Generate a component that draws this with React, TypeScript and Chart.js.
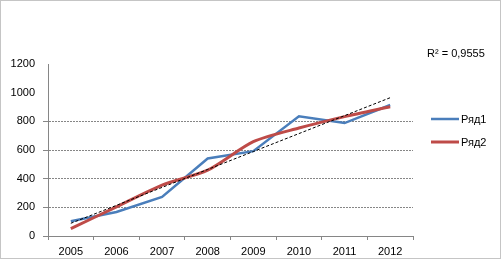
import React, { useEffect, useRef } from "react";
import { Chart, registerables } from "chart.js";

Chart.register(...registerables);

const years = ["2005", "2006", "2007", "2008", "2009", "2010", "2011", "2012"];
const series1 = [103, 168, 273, 541, 592, 835, 788, 914];
const series2 = [52, 203, 355, 459, 658, 753, 833, 902];
const seriesNames = ["Ряд1", "Ряд2"];
const yMin = 0;
const yMax = 1200;
const yStep = 200;
const gridMax = 800;
const r2Label = "R² = 0,9555";

function linearTrend(values: number[]): number[] {
  const n = values.length;
  const xs = values.map((_, i) => i + 1);
  const mx = xs.reduce((a, b) => a + b, 0) / n;
  const my = values.reduce((a, b) => a + b, 0) / n;
  let sxy = 0;
  let sxx = 0;
  for (let i = 0; i < n; i++) {
    sxy += (xs[i] - mx) * (values[i] - my);
    sxx += (xs[i] - mx) * (xs[i] - mx);
  }
  const slope = sxy / sxx;
  const intercept = my - slope * mx;
  return xs.map((x) => intercept + slope * x);
}

const trend1 = linearTrend(series1);

const BLUE = "#4a7ebb";
const RED = "#be4b48";
const GRID = "#868686";
const FONT = "'Liberation Sans', Arial, sans-serif";

export default function App() {
  const ref = useRef<HTMLCanvasElement | null>(null);

  useEffect(() => {
    document.body.style.margin = "0";
    const canvas = ref.current;
    if (!canvas) return;

    const overlay = {
      id: "overlay",
      afterDraw(chart: any) {
        const ctx = chart.ctx as CanvasRenderingContext2D;
        const area = chart.chartArea;
        ctx.save();
        // outer dotted border
        ctx.strokeStyle = "#8a8a8a";
        ctx.lineWidth = 1;
        ctx.setLineDash([1, 1]);
        ctx.strokeRect(0.5, 0.5, 500, 258);
        ctx.setLineDash([]);
        // legend
        ctx.font = `11px ${FONT}`;
        ctx.fillStyle = "#000";
        ctx.textBaseline = "middle";
        ctx.textAlign = "left";
        const lx = area.right + 18;
        const items = [
          { name: seriesNames[0], color: BLUE, width: 2.5, y: 119 },
          { name: seriesNames[1], color: RED, width: 3, y: 142 },
        ];
        for (const it of items) {
          ctx.strokeStyle = it.color;
          ctx.lineWidth = it.width;
          ctx.beginPath();
          ctx.moveTo(lx, it.y);
          ctx.lineTo(lx + 28, it.y);
          ctx.stroke();
          ctx.fillText(it.name, lx + 30, it.y + 1);
        }
        // R² label
        ctx.fillText(r2Label, area.right + 14, 54);
        ctx.restore();
      },
    };

    const chart = new Chart(canvas, {
      type: "line",
      data: {
        labels: years,
        datasets: [
          {
            label: "trend",
            data: trend1,
            borderColor: "#000",
            borderWidth: 1,
            borderDash: [3, 2],
            pointRadius: 0,
            tension: 0,
            fill: false,
          },
          {
            label: seriesNames[1],
            data: series2,
            borderColor: RED,
            borderWidth: 3,
            pointRadius: 0,
            tension: 0.25,
            fill: false,
          },
          {
            label: seriesNames[0],
            data: series1,
            borderColor: BLUE,
            borderWidth: 2.5,
            pointRadius: 0,
            tension: 0,
            fill: false,
          },
        ],
      },
      options: {
        responsive: false,
        animation: false,
        devicePixelRatio: 1,
        layout: { padding: { left: 0, top: 64, right: 90, bottom: 0 } },
        plugins: {
          legend: { display: false },
          tooltip: { enabled: false },
          title: { display: false },
        },
        scales: {
          x: {
            type: "category",
            offset: true,
            grid: {
              offset: true,
              drawOnChartArea: false,
              drawTicks: true,
              tickLength: 4,
              color: GRID,
            },
            border: { color: GRID, width: 1 },
            ticks: {
              color: "#000",
              font: { family: FONT, size: 11 },
              padding: 5,
              maxRotation: 0,
              autoSkip: false,
            },
            afterFit: (s: any) => {
              s.height = 25;
            },
          },
          y: {
            min: yMin,
            max: yMax,
            grid: {
              tickLength: 5,
              color: (c: any) =>
                c.tick && c.tick.value <= gridMax ? GRID : "rgba(0,0,0,0)",
            },
            border: { color: GRID, width: 1, dash: [2, 1] },
            ticks: {
              stepSize: yStep,
              color: "#000",
              font: { family: FONT, size: 11 },
              padding: 8,
              callback: (v: any) => String(v),
            },
            afterFit: (s: any) => {
              s.width = 48;
            },
          },
        },
      },
      plugins: [overlay],
    });

    return () => chart.destroy();
  }, []);

  return (
    <div style={{ position: "absolute", left: 0, top: 0, width: 503, height: 261, background: "#fff" }}>
      <canvas ref={ref} width={503} height={261} style={{ display: "block", width: 503, height: 261 }} />
    </div>
  );
}
